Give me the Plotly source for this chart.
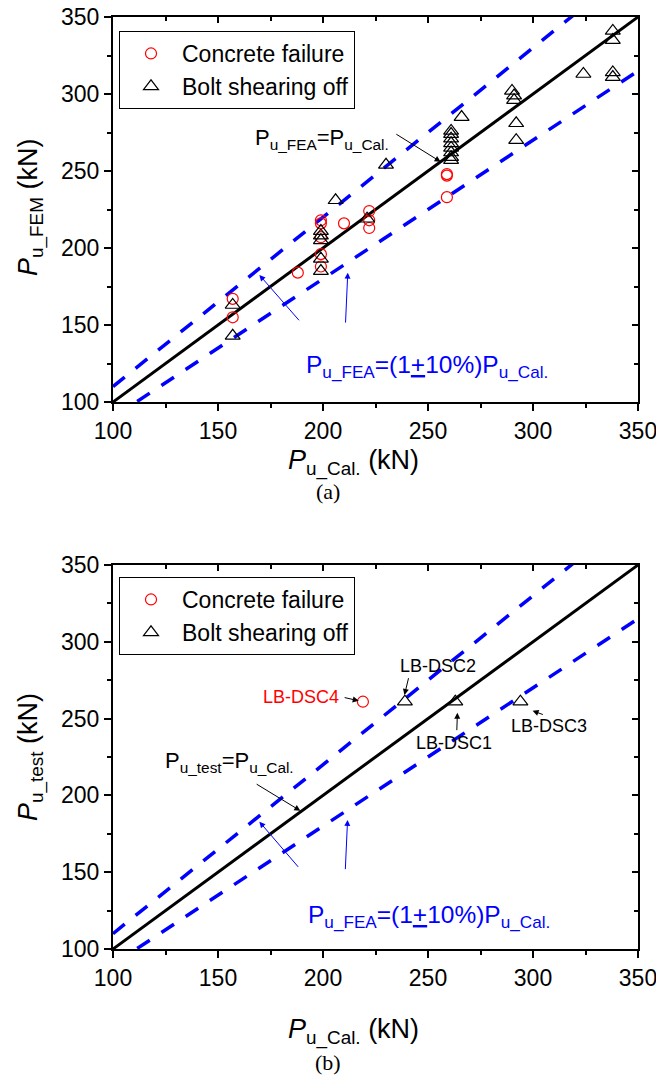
import numpy as np
import plotly.graph_objects as go

# ---------------- data ----------------
# (a) FEM vs calculated
a_conc_x = [157, 157, 188, 199, 199, 199, 199, 199, 210, 222, 222, 222, 259, 259, 259]
a_conc_y = [167, 155, 184, 218, 216, 207, 196, 188, 216, 224, 218, 213, 248, 247, 233]
a_bolt_x = [157, 157, 199, 199, 199, 199, 199, 206, 221, 230,
            261, 261, 261, 261, 261, 261, 261, 261, 266,
            290, 291, 291, 292, 292, 324, 338, 338, 338, 338]
a_bolt_y = [163, 143, 211, 208, 205, 193, 185, 231, 219, 254,
            276, 274, 271, 268, 265, 262, 259, 257, 285,
            302, 299, 296, 281, 270, 313, 341, 335, 314, 311]
# (b) test vs calculated
b_conc_x = [219]
b_conc_y = [261]
b_bolt_x = [239, 263, 294]
b_bolt_y = [261, 261, 261]
b_labels = ["LB-DSC4", "LB-DSC2", "LB-DSC1", "LB-DSC3"]

ref_x = np.array([100, 350])
ratio_up, ratio_lo = 1.1, 0.9
ticks_major = [100, 150, 200, 250, 300, 350]

FONT = "Liberation Sans, Arial, sans-serif"
W, H = 656, 1080
xdom = [113 / W, 638 / W]
ydom_a = [1 - 402 / H, 1 - 17 / H]
ydom_b = [1 - 949 / H, 1 - 565 / H]

fig = go.Figure()

def add_panel(xa, ya, conc_x, conc_y, bolt_x, bolt_y, legend):
    # reference lines
    fig.add_trace(go.Scatter(x=ref_x, y=ref_x * ratio_up, mode="lines",
                             line=dict(color="#0000ff", width=3.5, dash="15px,14px"),
                             xaxis=xa, yaxis=ya, showlegend=False, hoverinfo="skip"))
    fig.add_trace(go.Scatter(x=ref_x, y=ref_x * ratio_lo, mode="lines",
                             line=dict(color="#0000ff", width=3.5, dash="15px,14px"),
                             xaxis=xa, yaxis=ya, showlegend=False, hoverinfo="skip"))
    fig.add_trace(go.Scatter(x=ref_x, y=ref_x, mode="lines",
                             line=dict(color="black", width=3),
                             xaxis=xa, yaxis=ya, showlegend=False, hoverinfo="skip"))
    fig.add_trace(go.Scatter(x=conc_x, y=conc_y, mode="markers", name="Concrete failure",
                             marker=dict(symbol="circle-open", size=11, color="red",
                                         line=dict(width=1.2, color="red")),
                             xaxis=xa, yaxis=ya, legend=legend))
    fig.add_trace(go.Scatter(x=bolt_x, y=bolt_y, mode="markers", name="Bolt shearing off",
                             marker=dict(symbol="triangle-up-open", size=13, color="black",
                                         line=dict(width=1.2, color="black")),
                             xaxis=xa, yaxis=ya, legend=legend))

add_panel("x", "y", a_conc_x, a_conc_y, a_bolt_x, a_bolt_y, "legend")
add_panel("x2", "y2", b_conc_x, b_conc_y, b_bolt_x, b_bolt_y, "legend2")

# dummy traces so that overlay (mirror) axes are drawn
for xa, ya in [("x3", "y3"), ("x4", "y4")]:
    fig.add_trace(go.Scatter(x=[None], y=[None], xaxis=xa, yaxis=ya,
                             showlegend=False, hoverinfo="skip"))

def base_axis(**kw):
    d = dict(range=[100, 350], tickvals=ticks_major, showgrid=False, zeroline=False,
             automargin=False, ticklabeloverflow="allow",
             showline=True, linecolor="black", linewidth=2,
             ticks="outside", ticklen=7, tickwidth=1.5, tickcolor="black",
             minor=dict(dtick=25, tick0=100, ticks="outside", ticklen=4, tickwidth=1.5,
                        tickcolor="black", showgrid=False),
             tickfont=dict(family=FONT, size=23, color="black"))
    d.update(kw)
    return d

def mirror_axis(**kw):
    d = dict(range=[100, 350], tickvals=ticks_major, showgrid=False, zeroline=False,
             automargin=False,
             showline=True, linecolor="black", linewidth=2, showticklabels=False,
             ticks="inside", ticklen=6, tickwidth=1.5, tickcolor="black",
             minor=dict(dtick=25, tick0=100, ticks="inside", ticklen=4, tickwidth=1.5,
                        tickcolor="black", showgrid=False))
    d.update(kw)
    return d

leg_common = dict(xanchor="left", yanchor="top", bgcolor="white", bordercolor="black",
                  borderwidth=1, font=dict(family=FONT, size=23, color="black"),
                  itemwidth=52, tracegroupgap=0)

fig.update_layout(
    width=W, height=H, margin=dict(l=0, r=0, t=0, b=0, autoexpand=False),
    paper_bgcolor="white", plot_bgcolor="white",
    xaxis=base_axis(domain=xdom, anchor="y"),
    yaxis=base_axis(domain=ydom_a, anchor="x"),
    xaxis2=base_axis(domain=xdom, anchor="y2"),
    yaxis2=base_axis(domain=ydom_b, anchor="x2"),
    xaxis3=mirror_axis(domain=xdom, overlaying="x", side="top", anchor="y"),
    yaxis3=mirror_axis(domain=ydom_a, overlaying="y", side="right", anchor="x"),
    xaxis4=mirror_axis(domain=xdom, overlaying="x2", side="top", anchor="y2"),
    yaxis4=mirror_axis(domain=ydom_b, overlaying="y2", side="right", anchor="x2"),
    legend=dict(x=119 / W, y=1 - 31 / H, **leg_common),
    legend2=dict(x=119 / W, y=1 - 577 / H, **leg_common),
    showlegend=True,
)

ann = []
def txt(text, x, y, xref, yref, color="black", size=21, xanchor="left", family=FONT, angle=0):
    ann.append(dict(text=text, x=x, y=y, xref=xref, yref=yref, showarrow=False,
                    xanchor=xanchor, yanchor="middle", textangle=angle,
                    font=dict(family=family, size=size, color=color)))

def arrow(x0, y0, x1, y1, xr, yr, color="black", width=1):
    ann.append(dict(text="", x=x1, y=y1, ax=x0, ay=y0, xref=xr, yref=yr,
                    axref=xr, ayref=yr, showarrow=True, arrowhead=2, arrowsize=1.2,
                    arrowwidth=width, arrowcolor=color))

# panel (a)
txt("P<sub>u_FEA</sub>=P<sub>u_Cal.</sub>", 166.7, 270.5, "x", "y", size=22)
arrow(234.2, 274.5, 256, 256, "x", "y")
txt("P<sub>u_FEA</sub>=(1<u>+</u>10%)P<sub>u_Cal.</sub>", 191.0, 123, "x", "y", color="#0000ff", size=24.5)
arrow(189.2, 152.1, 169.7, 182.5, "x", "y", color="#0000ff")
arrow(210.7, 150.6, 211.8, 184, "x", "y", color="#0000ff")

# panel (b)
txt("P<sub>u_test</sub>=P<sub>u_Cal.</sub>", 123.9, 221.5, "x2", "y2", size=22)
arrow(167.7, 207.9, 189.2, 190.0, "x2", "y2")
txt("P<sub>u_FEA</sub>=(1<u>+</u>10%)P<sub>u_Cal.</sub>", 192.0, 121, "x2", "y2", color="#0000ff", size=24.5)
arrow(188.8, 152.5, 169.7, 182.9, "x2", "y2", color="#0000ff")
arrow(210.6, 151.0, 211.7, 184.0, "x2", "y2", color="#0000ff")

lab_pos = [(189.3, 264.3, "red"), (254.7, 284.5, "black"), (262.4, 234.3, "black"), (307.4, 245.2, "black")]
for lab, (lx, ly, c) in zip(b_labels, lab_pos):
    txt(lab, lx, ly, "x2", "y2", color=c, size=18, xanchor="center")
arrow(209.6, 263.9, 217.0, 261.6, "x2", "y2")
arrow(240.9, 277.3, 238.8, 265.4, "x2", "y2")
arrow(263.7, 241.5, 264.0, 253.8, "x2", "y2")
arrow(305.4, 252.3, 299.8, 255.1, "x2", "y2")

# axis titles
txt("<i>P</i><sub>u_Cal.</sub> (kN)", 353 / W, 1 - 462 / H, "paper", "paper", size=27, xanchor="center")
txt("<i>P</i><sub>u_Cal.</sub> (kN)", 353 / W, 1 - 1031 / H, "paper", "paper", size=27, xanchor="center")
txt("<i>P</i><sub>u_FEM</sub> (kN)", 30 / W, 1 - 208 / H, "paper", "paper", size=27, xanchor="center", angle=-90)
txt("<i>P</i><sub>u_test</sub> (kN)", 30 / W, 1 - 757 / H, "paper", "paper", size=27, xanchor="center", angle=-90)
# panel labels
txt("(a)", 328 / W, 1 - 492 / H, "paper", "paper", size=22, xanchor="center",
    family="Liberation Serif, Times New Roman, serif")
txt("(b)", 328 / W, 1 - 1062 / H, "paper", "paper", size=22, xanchor="center",
    family="Liberation Serif, Times New Roman, serif")

fig.update_layout(annotations=ann)
fig.write_html("out.html")
